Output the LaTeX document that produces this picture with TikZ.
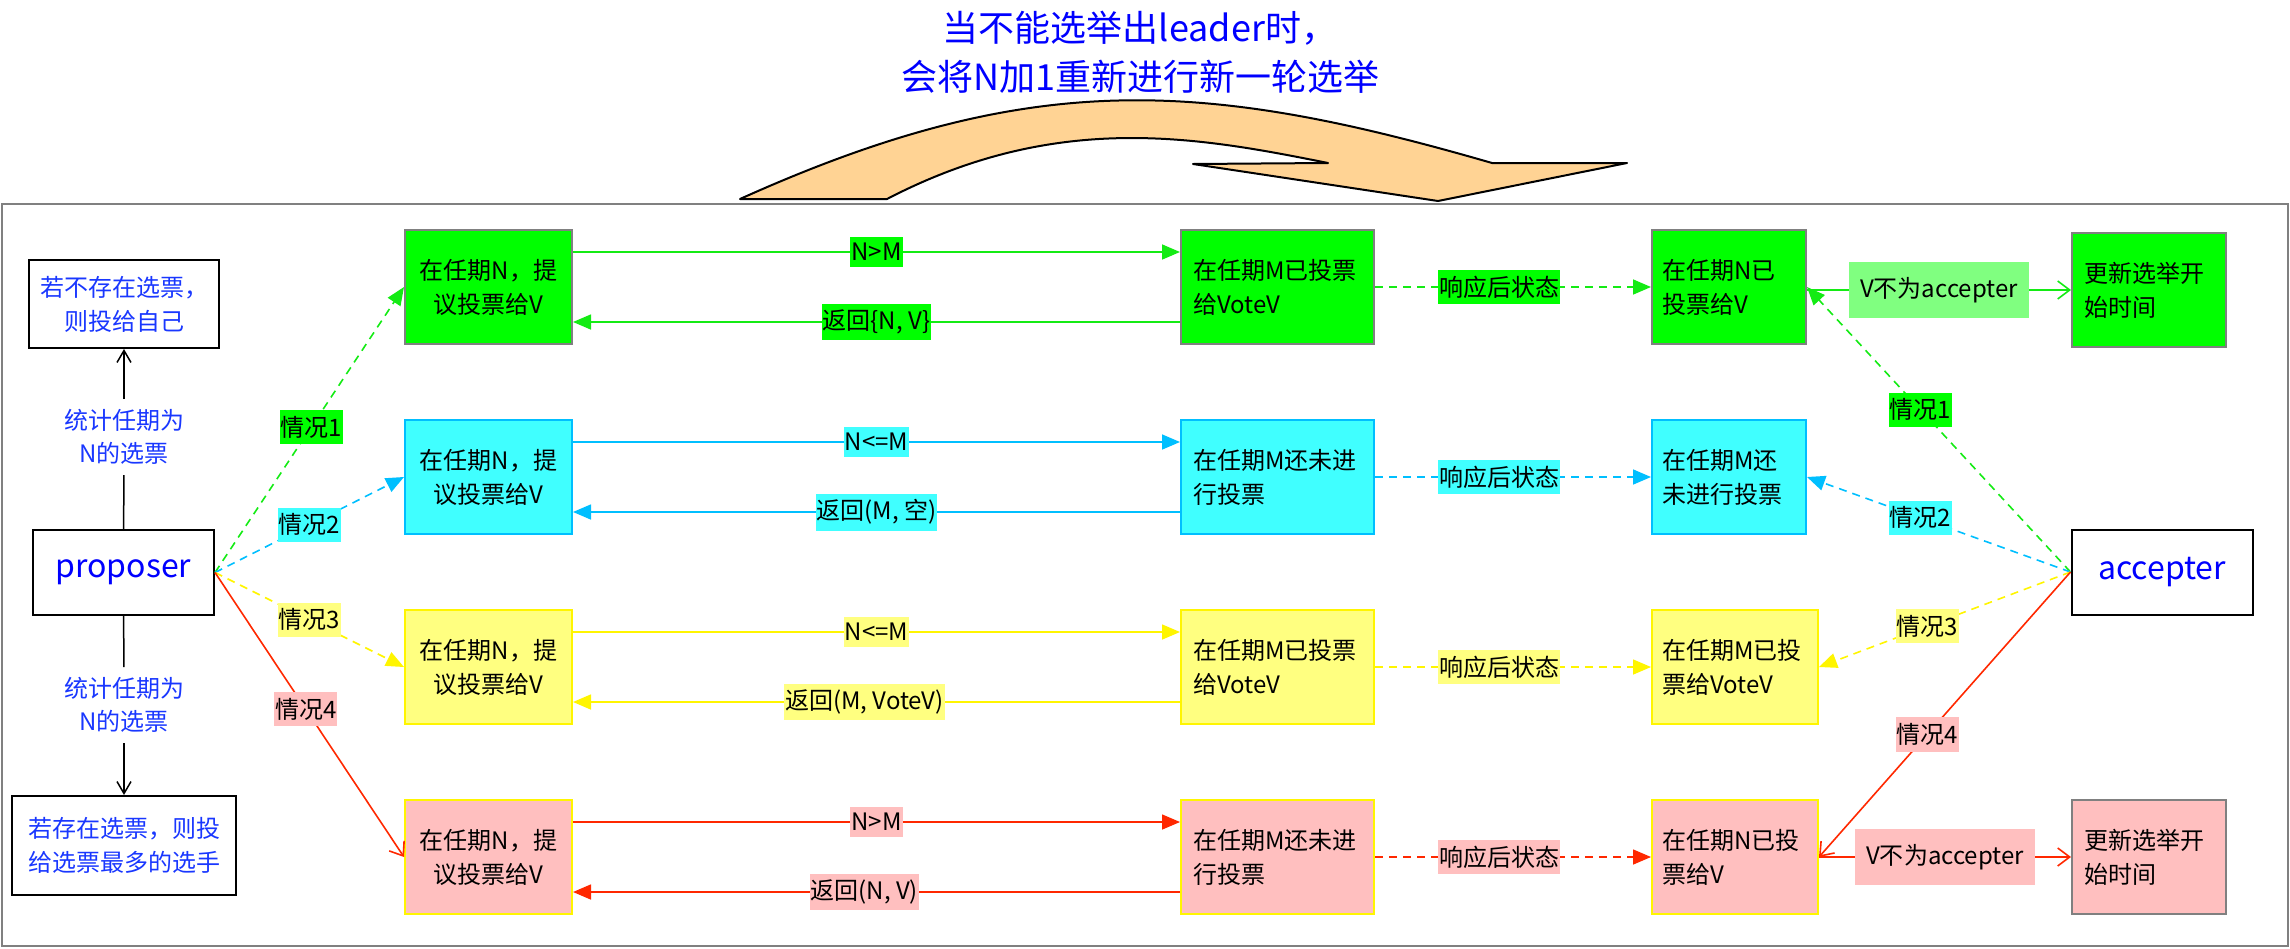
\documentclass[tikz,border=0pt]{standalone}
\usepackage{fontspec}
\setmainfont{Noto Sans CJK SC}
\usepackage{tikz}
\usetikzlibrary{arrows.meta,positioning}

\definecolor{boxgreen}{RGB}{0,255,0}
\definecolor{linegreen}{RGB}{20,235,20}
\definecolor{boxcyan}{RGB}{64,255,255}
\definecolor{linecyan}{RGB}{0,191,255}
\definecolor{boxyellow}{RGB}{255,255,128}
\definecolor{lineyellow}{RGB}{255,245,0}
\definecolor{boxpink}{RGB}{255,191,191}
\definecolor{linered}{RGB}{255,40,0}
\definecolor{lightgreen}{RGB}{128,255,128}
\definecolor{bordergray}{RGB}{128,128,128}
\definecolor{arroworange}{RGB}{255,211,148}
\definecolor{textblue}{RGB}{25,55,255}

\tikzset{
  statebox/.style={draw, line width=1pt, minimum height=57pt, inner ysep=2pt,
    font=\fontsize{12}{17}\selectfont},
  propbox/.style={statebox, inner xsep=6pt, text width=71.5pt, align=center},
  midbox/.style={statebox, inner xsep=6pt, text width=84.5pt, align=left},
  accbox/.style={statebox, inner xsep=5pt, text width=67pt, align=left},
  accwide/.style={statebox, inner xsep=5pt, text width=73pt, align=left},
  endbox/.style={statebox, inner xsep=6pt, text width=65pt, align=left},
  rowgreen/.style={fill=boxgreen, draw=bordergray},
  rowcyan/.style={fill=boxcyan, draw=linecyan},
  rowyellow/.style={fill=boxyellow, draw=lineyellow},
  rowpink/.style={fill=boxpink, draw=lineyellow},
  actor/.style={draw, line width=1pt, minimum width=90.5pt, minimum height=42.5pt,
    text=blue, font=\fontsize{16}{19}\selectfont},
  note/.style={draw, line width=1pt, minimum width=95pt, minimum height=44pt,
    align=center, text=textblue, font=\fontsize{12}{17}\selectfont},
  count/.style={align=center, inner ysep=5pt, text=textblue,
    font=\fontsize{12}{16.5}\selectfont},
  tag/.style={inner xsep=0.5pt, inner ysep=3pt, text=black,
    font=\fontsize{12}{14}\selectfont},
  widetag/.style={inner xsep=5.5pt, inner ysep=7.5pt, text=black,
    font=\fontsize{12}{14}\selectfont},
  fwd/.style={line width=0.8pt, -{Triangle[length=9pt,width=7.5pt]}},
  barb/.style={line width=0.8pt, -{Straight Barb[length=6pt,width=9pt]}},
  dashline/.style={dash pattern=on 4pt off 3pt},
}

\begin{document}
\begin{tikzpicture}[x=0.5pt,y=-0.5pt]
  \useasboundingbox (0,0) rectangle (2290,948);

  % title and the big turning arrow
  \node[align=center, text=blue, font=\fontsize{18}{24.5}\selectfont] (title) at (1140,52)
    {当不能选举出leader时，\\会将N加1重新进行新一轮选举};
  \draw[fill=arroworange, line width=1pt, line join=round]
    (740,199) .. controls (1030,68.5) and (1202,79) .. (1492,163)
    -- (1627,163) -- (1438,201) -- (1193,164) -- (1328,163)
    .. controls (1198,137) and (1057,110.6) .. (887,199) -- cycle;

  % outer frame
  \draw[bordergray, line width=1pt] (2,204) rectangle (2288,946);

  % proposer side
  \node[actor] (proposer) at (123.5,572.5) {proposer};
  \node[note] (none) at (124,304) {若不存在选票，\\则投给自己};
  \node[note, minimum width=112pt, minimum height=49.5pt] (most) at (124,845.5)
    {若存在选票，则投\\给选票最多的选手};
  \node[count] (count1) at (124,437) {统计任期为\\N的选票};
  \node[count] (count2) at (124,705) {统计任期为\\N的选票};
  \draw[line width=0.75pt] (proposer) -- (count1);
  \draw[line width=0.75pt, -{Straight Barb[length=6pt,width=7pt]}] (count1) -- (none);
  \draw[line width=0.75pt] (proposer) -- (count2);
  \draw[line width=0.75pt, -{Straight Barb[length=6pt,width=7pt]}] (count2) -- (most);

  % accepter side
  \node[actor] (accepter) at (2162,572) {accepter};

  % proposal boxes
  \node[propbox, rowgreen] (p1) at (488.5,287) {在任期N，提\\议投票给V};
  \node[propbox, rowcyan] (p2) at (488.5,477) {在任期N，提\\议投票给V};
  \node[propbox, rowyellow] (p3) at (488.5,667) {在任期N，提\\议投票给V};
  \node[propbox, rowpink] (p4) at (488.5,857) {在任期N，提\\议投票给V};

  % state before the answer
  \node[midbox, rowgreen] (m1) at (1277.5,287) {在任期M已投票\\给VoteV};
  \node[midbox, rowcyan] (m2) at (1277.5,477) {在任期M还未进\\行投票};
  \node[midbox, rowyellow] (m3) at (1277.5,667) {在任期M已投票\\给VoteV};
  \node[midbox, rowpink] (m4) at (1277.5,857) {在任期M还未进\\行投票};

  % state after the answer
  \node[accbox, rowgreen] (n1) at (1729,287) {在任期N已\\投票给V};
  \node[accbox, rowcyan] (n2) at (1729,477) {在任期M还\\未进行投票};
  \node[accwide, rowyellow] (n3) at (1735,667) {在任期M已投\\票给VoteV};
  \node[accwide, rowpink] (n4) at (1735,857) {在任期N已投\\票给V};

  % timer reset
  \node[endbox, rowgreen] (u1) at (2149,290) {更新选举开\\始时间};
  \node[endbox, rowpink, draw=bordergray] (u4) at (2149,857) {更新选举开\\始时间};

  % proposer -> proposals
  \draw[fwd, dashline, linegreen] (proposer.east) -- node[tag, fill=boxgreen, pos=0.51] {情况1} (p1.west);
  \draw[fwd, dashline, linecyan] (proposer.east) -- node[tag, fill=boxcyan, pos=0.5] {情况2} (p2.west);
  \draw[fwd, dashline, lineyellow] (proposer.east) -- node[tag, fill=boxyellow, pos=0.5] {情况3} (p3.west);
  \draw[barb, linered] (proposer.east) -- node[tag, fill=boxpink, pos=0.48] {情况4} (p4.west);

  % requests and replies
  \draw[fwd, linegreen] ([yshift=17.5pt]p1.east) -- node[tag, fill=boxgreen] {N>M} ([yshift=17.5pt]m1.west);
  \draw[fwd, linegreen] ([yshift=-17.5pt]m1.west) -- node[tag, fill=boxgreen] {返回\{N, V\}} ([yshift=-17.5pt]p1.east);
  \draw[fwd, linecyan] ([yshift=17.5pt]p2.east) -- node[tag, fill=boxcyan] {N<=M} ([yshift=17.5pt]m2.west);
  \draw[fwd, linecyan] ([yshift=-17.5pt]m2.west) -- node[tag, fill=boxcyan] {返回(M, 空)} ([yshift=-17.5pt]p2.east);
  \draw[fwd, lineyellow] ([yshift=17.5pt]p3.east) -- node[tag, fill=boxyellow] {N<=M} ([yshift=17.5pt]m3.west);
  \draw[fwd, lineyellow] ([yshift=-17.5pt]m3.west) -- node[tag, fill=boxyellow, pos=0.52] {返回(M, VoteV)} ([yshift=-17.5pt]p3.east);
  \draw[fwd, linered] ([yshift=17.5pt]p4.east) -- node[tag, fill=boxpink] {N>M} ([yshift=17.5pt]m4.west);
  \draw[fwd, linered] ([yshift=-17.5pt]m4.west) -- node[tag, fill=boxpink, pos=0.52] {返回(N, V)} ([yshift=-17.5pt]p4.east);

  % state change
  \foreach \i/\ln/\bg in {1/linegreen/boxgreen, 2/linecyan/boxcyan, 3/lineyellow/boxyellow, 4/linered/boxpink}
    \draw[fwd, dashline, \ln] (m\i) -- node[tag, fill=\bg, pos=0.45] {响应后状态} (n\i);

  % accepter -> states
  \draw[fwd, dashline, linegreen] (accepter.west) -- node[tag, fill=boxgreen, pos=0.57] {情况1} (n1.east);
  \draw[fwd, dashline, linecyan] (accepter.west) -- node[tag, fill=boxcyan, pos=0.57] {情况2} (n2.east);
  \draw[fwd, dashline, lineyellow] (accepter.west) -- node[tag, fill=boxyellow, pos=0.57] {情况3} (n3.east);
  \draw[barb, linered] (accepter.west) -- node[tag, fill=boxpink, pos=0.57] {情况4} (n4.east);

  % not the accepter
  \draw[barb, linegreen] (n1.east |- u1.west) -- node[widetag, fill=lightgreen] {V不为accepter} (u1.west);
  \draw[barb, linered] (n4) -- node[widetag, fill=boxpink] {V不为accepter} (u4);
\end{tikzpicture}
\end{document}
